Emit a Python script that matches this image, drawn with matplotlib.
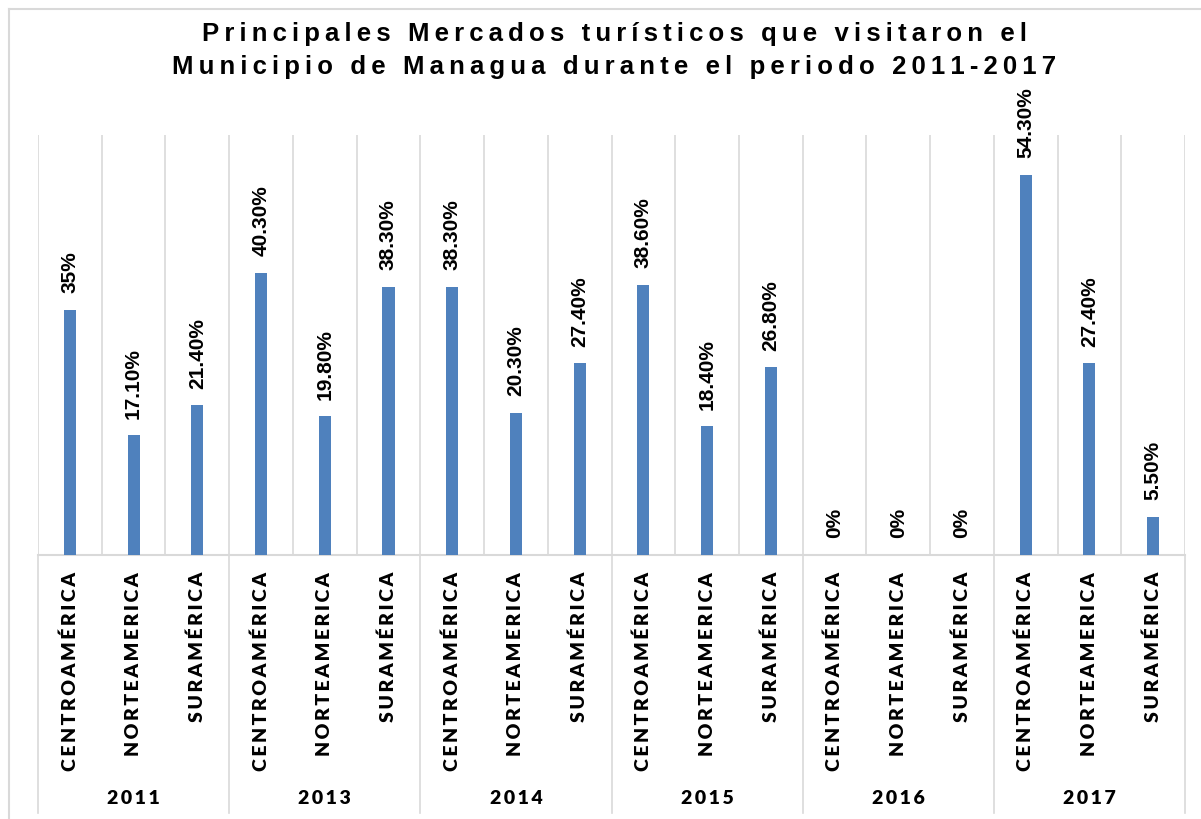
import matplotlib
matplotlib.use("Agg")
import matplotlib.pyplot as plt
import matplotlib.transforms as mtransforms
from matplotlib.lines import Line2D

years = ["2011", "2013", "2014", "2015", "2016", "2017"]
regions = ["CENTROAMÉRICA", "NORTEAMERICA", "SURAMÉRICA"]
centro = [35, 40.3, 38.3, 38.6, 0, 54.3]
norte = [17.1, 19.8, 20.3, 18.4, 0, 27.4]
sur = [21.4, 38.3, 27.4, 26.8, 0, 5.5]

values = []
cats = []
for i in range(len(years)):
    for r, series in zip(regions, (centro, norte, sur)):
        values.append(series[i])
        cats.append(r)

def fmt(v):
    return f"{v:g}%" if float(v).is_integer() else f"{v:.2f}%"

def spaced(s, sep="\u2009"):
    return sep.join(s)

W, H = 1201, 819
fig = plt.figure(figsize=(W / 100, H / 100), dpi=100)
ax = fig.add_axes([38 / W, (H - 555) / H, (1185 - 38) / W, 420 / H])

x = list(range(len(values)))
ax.bar(x, values, width=0.19, color="#4f81bd", zorder=3)
ax.set_xlim(-0.5, len(values) - 0.5)
ax.set_ylim(0, 60)
for s in ax.spines.values():
    s.set_visible(False)
ax.set_xticks([])
ax.set_yticks([])

grid_c = "#d9d9d9"
for b in range(len(values) + 1):
    ax.axvline(b - 0.5, color=grid_c, lw=1.2, zorder=1)
ax.axhline(0, color=grid_c, lw=1.5, zorder=2, clip_on=False)

trans = mtransforms.blended_transform_factory(ax.transData, ax.transAxes)
# group separators below axis
for g in range(len(years) + 1):
    xb = g * 3 - 0.5
    ax.add_line(Line2D([xb, xb], [0, -(813 - 555) / 420], transform=trans,
                       color=grid_c, lw=1.2, clip_on=False))

font_lab = ["Lato", "DejaVu Sans"]
# value labels
for xi, v in zip(x, values):
    ax.annotate(fmt(v), (xi, v), xytext=(0, 12), textcoords="offset points",
                rotation=90, ha="center", va="bottom", fontsize=15,
                fontweight="bold", family=["Liberation Sans", "DejaVu Sans"],
                color="#000000")

# category labels
for xi, c in zip(x, cats):
    ax.text(xi, -(572 - 555) / 420, spaced(c), transform=trans, rotation=90,
            ha="center", va="top", fontsize=14, fontweight="heavy",
            family=font_lab, color="#000000")

# year labels
for g, yr in enumerate(years):
    ax.text(g * 3 + 1, -(799 - 555) / 420, spaced(yr, "\u2009"), transform=trans,
            ha="center", va="center", fontsize=14, fontweight="heavy",
            family=font_lab, color="#000000")

# title
title_font = ["Liberation Sans", "DejaVu Sans"]
fig.text(614 / W, 1 - 41 / H,
         spaced("Principales Mercados turísticos que visitaron el", "\u2009"),
         ha="center", va="baseline", fontsize=18.5, fontweight="bold",
         family=title_font)
fig.text(614 / W, 1 - 74 / H,
         spaced("Municipio de Managua durante el periodo 2011-2017", "\u2009"),
         ha="center", va="baseline", fontsize=18.5, fontweight="bold",
         family=title_font)

# chart border (top and left)
fig.add_artist(Line2D([9 / W, 9 / W], [0, 1 - 9 / H], transform=fig.transFigure,
                      color=grid_c, lw=1.5))
fig.add_artist(Line2D([9 / W, 1], [1 - 9 / H, 1 - 9 / H], transform=fig.transFigure,
                      color=grid_c, lw=1.5))

fig.savefig("out.png", dpi=100, facecolor="white")
